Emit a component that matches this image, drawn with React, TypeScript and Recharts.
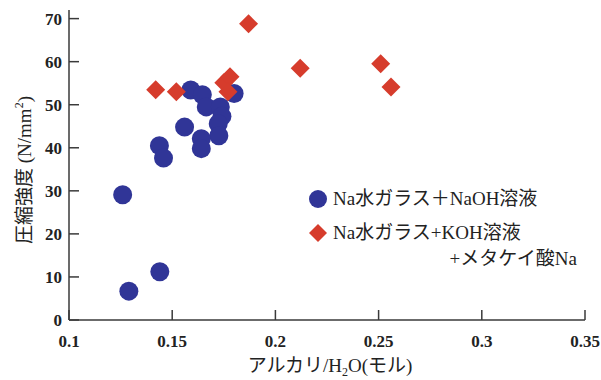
import {
  ScatterChart,
  Scatter,
  XAxis,
  YAxis,
  Legend,
} from "recharts";

// アルカリ/H2O vs 圧縮強度
const naohX = [0.126, 0.129, 0.144, 0.1438, 0.1458, 0.156, 0.159, 0.1646, 0.1665, 0.1733, 0.1741, 0.1723, 0.1726, 0.1641, 0.1641, 0.18];
const naohY = [29.1, 6.7, 11.2, 40.5, 37.6, 44.8, 53.4, 52.3, 49.5, 49.5, 47.3, 45.6, 42.8, 42.1, 39.8, 52.6];

const kohX = [0.142, 0.152, 0.175, 0.178, 0.177, 0.187, 0.212, 0.251, 0.256];
const kohY = [53.5, 53.0, 55.1, 56.5, 53.0, 68.8, 58.5, 59.5, 54.1];

const xTicks = [0.1, 0.15, 0.2, 0.25, 0.3, 0.35];
const yTicks = [0, 10, 20, 30, 40, 50, 60, 70];

const BLUE = "#303597";
const RED = "#d63c2c";
const AXIS = "#3a3a3a";
const SERIF = "'Liberation Serif', 'Noto Sans CJK JP', serif";
const TICK_LEN = 10;

const naohData = naohX.map((x, i) => ({ x, y: naohY[i] }));
const kohData = kohX.map((x, i) => ({ x, y: kohY[i] }));

// inward tick marks; tickSize=0 so x/y land on the axis line
function BottomTick(p: any) {
  return (
    <g>
      <line x1={p.x} y1={p.y} x2={p.x} y2={p.y - TICK_LEN} stroke={AXIS} strokeWidth={1.5} />
      <text x={p.x} y={p.y + 27} textAnchor="middle" fontSize={17} fontWeight="bold" fill="#222" fontFamily={SERIF}>
        {p.payload.value}
      </text>
    </g>
  );
}

function LeftTick(p: any) {
  return (
    <g>
      <line x1={p.x} y1={p.y} x2={p.x + TICK_LEN} y2={p.y} stroke={AXIS} strokeWidth={1.5} />
      <text x={p.x - 7} y={p.y + 6} textAnchor="end" fontSize={17} fontWeight="bold" fill="#222" fontFamily={SERIF}>
        {p.payload.value}
      </text>
    </g>
  );
}

function TopTick(p: any) {
  return <line x1={p.x} y1={p.y} x2={p.x} y2={p.y + TICK_LEN} stroke={AXIS} strokeWidth={1.5} />;
}

function RightTick(p: any) {
  return <line x1={p.x} y1={p.y} x2={p.x - TICK_LEN} y2={p.y} stroke={AXIS} strokeWidth={1.5} />;
}

function Circle(p: any) {
  return <circle cx={p.cx} cy={p.cy} r={9.5} fill={BLUE} />;
}

function Diamond(p: any) {
  const s = 9.5;
  return (
    <polygon
      points={`${p.cx},${p.cy - s} ${p.cx + s},${p.cy} ${p.cx},${p.cy + s} ${p.cx - s},${p.cy}`}
      fill={RED}
    />
  );
}

function LegendBox() {
  return (
    <div style={{ fontFamily: SERIF, fontSize: 19, color: "#222", lineHeight: "30px" }}>
      <div style={{ display: "flex", alignItems: "center" }}>
        <svg width={22} height={22} style={{ marginRight: 4 }}>
          <circle cx={11} cy={11} r={9} fill={BLUE} />
        </svg>
        <span>Na水ガラス＋NaOH溶液</span>
      </div>
      <div style={{ display: "flex", alignItems: "center", marginTop: 4 }}>
        <svg width={22} height={22} style={{ marginRight: 4 }}>
          <polygon points="11,2 20,11 11,20 2,11" fill={RED} />
        </svg>
        <span>Na水ガラス+KOH溶液</span>
      </div>
      <div style={{ textAlign: "right", marginTop: -4 }}>+メタケイ酸Na</div>
    </div>
  );
}

export default function App() {
  return (
    <div style={{ position: "absolute", left: 0, top: 0, width: 601, height: 380, background: "#fff" }}>
      <ScatterChart width={601} height={380} margin={{ top: 10, right: 16, bottom: 0, left: 0 }}>
        <XAxis
          type="number"
          dataKey="x"
          domain={[0.1, 0.35]}
          ticks={xTicks}
          allowDataOverflow
          height={60}
          tickSize={0}
          tickMargin={0}
          tickLine={false}
          tick={BottomTick}
          axisLine={{ stroke: AXIS, strokeWidth: 1.5 }}
        />
        <XAxis
          xAxisId="top"
          orientation="top"
          type="number"
          dataKey="x"
          domain={[0.1, 0.35]}
          ticks={xTicks}
          allowDataOverflow
          height={0}
          tickSize={0}
          tickMargin={0}
          tickLine={false}
          tick={TopTick}
          axisLine={{ stroke: AXIS, strokeWidth: 1.5 }}
        />
        <YAxis
          type="number"
          dataKey="y"
          domain={[0, 72]}
          ticks={yTicks}
          allowDataOverflow
          width={69}
          tickSize={0}
          tickMargin={0}
          tickLine={false}
          tick={LeftTick}
          axisLine={{ stroke: AXIS, strokeWidth: 1.5 }}
        />
        <YAxis
          yAxisId="right"
          orientation="right"
          type="number"
          dataKey="y"
          domain={[0, 72]}
          ticks={yTicks}
          allowDataOverflow
          width={0}
          tickSize={0}
          tickMargin={0}
          tickLine={false}
          tick={RightTick}
          axisLine={{ stroke: AXIS, strokeWidth: 1.5 }}
        />
        <Scatter name="naoh" data={naohData} shape={Circle} isAnimationActive={false} />
        <Scatter name="koh" data={kohData} shape={Diamond} isAnimationActive={false} />
        <Legend
          layout="vertical"
          align="center"
          verticalAlign="middle"
          content={() => <LegendBox />}
          wrapperStyle={{ position: "absolute", left: 307, top: 184, width: 270 }}
        />
      </ScatterChart>

      {/* axis titles */}
      <div
        style={{
          position: "absolute",
          left: 22,
          top: 170,
          transform: "translate(-50%, -50%) rotate(-90deg)",
          whiteSpace: "nowrap",
          fontFamily: SERIF,
          fontSize: 19,
          color: "#222",
        }}
      >
        圧縮強度 (N/mm<sup style={{ fontSize: 12 }}>2</sup>)
      </div>
      <div
        style={{
          position: "absolute",
          left: 330,
          top: 365,
          transform: "translate(-50%, -50%)",
          whiteSpace: "nowrap",
          fontFamily: SERIF,
          fontSize: 19,
          color: "#222",
        }}
      >
        アルカリ/H<sub style={{ fontSize: 12 }}>2</sub>O(モル)
      </div>
    </div>
  );
}
